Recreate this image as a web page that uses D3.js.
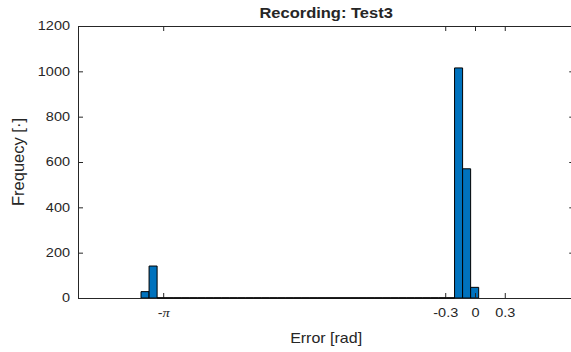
<!DOCTYPE html>
<html>
<head>
<meta charset="utf-8">
<script src="https://cdn.jsdelivr.net/npm/d3@7"></script>
<style>
  html, body { margin: 0; padding: 0; background: #fff; }
  svg { display: block; }
  text { font-family: "Liberation Sans", Arial, Helvetica, sans-serif; fill: #262626; }
</style>
</head>
<body>
<svg id="chart" width="571" height="352"></svg>
<script>
// ---- data ----
const title = "Recording: Test3";
const xLabel = "Error [rad]";
const yLabel = "Frequecy [\u00B7]";
const binStart = -3.365;      // left edge of first bin [rad]
const binWidth = 0.081;       // bin width [rad]
const counts = [28, 141].concat(Array(37).fill(0), [1015, 570, 47]);
const xDomain = [-4, 1];
const yDomain = [0, 1200];
const xTickValues = [-Math.PI, -0.3, 0, 0.3];
const xTickLabels = ["-\u03C0", "-0.3", "0", "0.3"];
const yTickValues = [0, 200, 400, 600, 800, 1000, 1200];

// ---- layout ----
const svg = d3.select("#chart");
const m = { left: 78, right: 574.25, top: 26, bottom: 298 };
const axisColor = "#262626";
const squeeze = 0.86;   // vertical text squeeze seen in the reference

const x = d3.scaleLinear().domain(xDomain).range([m.left, m.right]);
const y = d3.scaleLinear().domain(yDomain).range([m.bottom, m.top]);

const bins = counts.map((c, i) => ({
  x0: binStart + i * binWidth,
  x1: binStart + (i + 1) * binWidth,
  c
}));

// bars
svg.append("g").selectAll("path").data(bins).join("path")
  .attr("d", d => `M${x(d.x0)},${y(0)}V${y(d.c)}H${x(d.x1)}V${y(0)}Z`)
  .attr("fill", "#0072BD")
  .attr("stroke", "#000")
  .attr("stroke-width", 1);

// axes
const tickLen = 5;
const gx = svg.append("g").attr("transform", `translate(0,${m.bottom})`)
  .call(d3.axisBottom(x).tickValues(xTickValues).tickSize(-tickLen).tickSizeOuter(0)
    .tickPadding(9).tickFormat((d, i) => xTickLabels[i]));
const gxTop = svg.append("g").attr("transform", `translate(0,${m.top})`)
  .call(d3.axisTop(x).tickValues(xTickValues).tickSize(-tickLen).tickSizeOuter(0).tickFormat(""));
const gy = svg.append("g").attr("transform", `translate(${m.left},0)`)
  .call(d3.axisLeft(y).tickValues(yTickValues).tickSize(-tickLen).tickSizeOuter(0)
    .tickPadding(8).tickFormat(d3.format("d")));
const gyR = svg.append("g").attr("transform", `translate(${m.right},0)`)
  .call(d3.axisRight(y).tickValues(yTickValues).tickSize(-tickLen).tickSizeOuter(0).tickFormat(""));

[gx, gxTop, gy, gyR].forEach(g => {
  g.select(".domain").attr("stroke", axisColor).attr("stroke-width", 1);
  g.selectAll(".tick line").attr("stroke", axisColor).attr("stroke-width", 1);
  g.selectAll("text").attr("font-size", 14.5).attr("fill", axisColor)
    .attr("font-family", '"Liberation Sans", Arial, Helvetica, sans-serif');
});
gx.selectAll(".tick text").each(function (d, i) {
  const t = d3.select(this);
  if (xTickLabels[i].includes("\u03C0")) {
    t.text(null);
    t.append("tspan").text("-");
    t.append("tspan").text("\u03C0").attr("font-style", "italic")
      .attr("font-family", '"Liberation Serif", "DejaVu Serif", serif');
  }
});

// zero-height bins drawn black over the axis line
svg.append("g").selectAll("path").data(bins.filter(b => b.c === 0)).join("path")
  .attr("d", d => `M${x(d.x0)},${y(0)}H${x(d.x1)}`)
  .attr("stroke", "#000").attr("stroke-width", 1);

// title and labels
svg.append("text").attr("class", "sq").attr("x", (m.left + m.right) / 2).attr("y", 19)
  .attr("text-anchor", "middle").attr("font-size", 16.5).attr("font-weight", "bold")
  .attr("fill", "#000").text(title);
svg.append("text").attr("class", "sq").attr("x", (m.left + m.right) / 2).attr("y", 344)
  .attr("text-anchor", "middle").attr("font-size", 16).text(xLabel);
svg.append("text").attr("transform", `translate(24,${(m.top + m.bottom) / 2}) rotate(-90)`)
  .attr("text-anchor", "middle").attr("font-size", 16.5).text(yLabel);

// squeeze horizontal texts vertically around their centre
function squeezeText(sel) {
  sel.each(function () {
    const b = this.getBBox();
    const cy = b.y + b.height / 2;
    d3.select(this).attr("transform", `translate(0,${cy}) scale(1,${squeeze}) translate(0,${-cy})`);
  });
}
squeezeText(gx.selectAll(".tick text"));
squeezeText(gy.selectAll(".tick text"));
squeezeText(svg.selectAll("text.sq"));
</script>
</body>
</html>
